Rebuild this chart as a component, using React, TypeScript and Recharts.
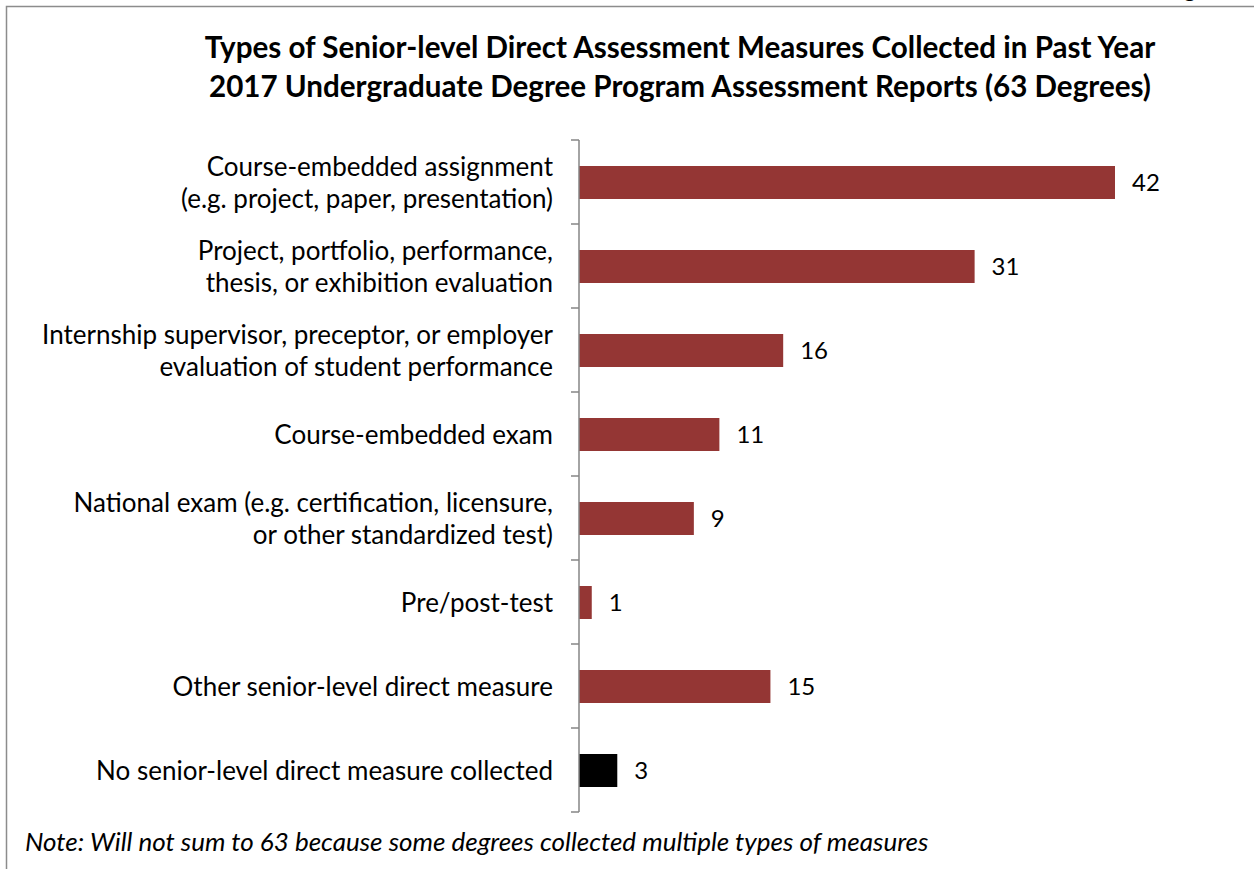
import React from "react";
import { BarChart, Bar, XAxis, YAxis, Cell, LabelList } from "recharts";

const categories = [
  "Course-embedded assignment\n(e.g. project, paper, presentation)",
  "Project, portfolio, performance,\nthesis, or exhibition evaluation",
  "Internship supervisor, preceptor, or employer\nevaluation of student performance",
  "Course-embedded exam",
  "National exam (e.g. certification, licensure,\nor other standardized test)",
  "Pre/post-test",
  "Other senior-level direct measure",
  "No senior-level direct measure collected",
];
const counts = [42, 31, 16, 11, 9, 1, 15, 3];
const barColors = ["#943634", "#943634", "#943634", "#943634", "#943634", "#943634", "#943634", "#000000"];
const titleLines = [
  "Types of Senior-level Direct Assessment Measures Collected in Past Year",
  "2017 Undergraduate Degree Program Assessment Reports (63 Degrees)",
];
const note = "Note: Will not sum to 63 because some degrees collected multiple types of measures";

const data = categories.map((c, i) => ({ name: c, value: counts[i], color: barColors[i] }));

const FONT = "Lato, 'Open Sans', sans-serif";
const TOP = 140;
const BOTTOM = 812;
const BAND = (BOTTOM - TOP) / categories.length;

const CategoryTick = (props: any) => {
  const { x, y, payload, index } = props;
  const lines = String(payload.value).split("\n");
  const lh = 32;
  const startY = y - ((lines.length - 1) * lh) / 2;
  const ax = x + 8;
  return (
    <g>
      <line x1={ax - 8} x2={ax} y1={y - BAND / 2} y2={y - BAND / 2} stroke="#868686" strokeWidth={1.5} />
      {index === categories.length - 1 && (
        <line x1={ax - 8} x2={ax} y1={y + BAND / 2} y2={y + BAND / 2} stroke="#868686" strokeWidth={1.5} />
      )}
      <text x={ax - 26} y={startY} textAnchor="end" dominantBaseline="central" fontFamily={FONT} fontSize={26} fill="#000">
        {lines.map((l, i) => (
          <tspan key={i} x={ax - 26} y={startY + i * lh} dominantBaseline="central">
            {l}
          </tspan>
        ))}
      </text>
    </g>
  );
};

export default function App() {
  return (
    <div style={{ position: "absolute", left: 0, top: 0, width: 1254, height: 869, background: "#fff" }}>
      <svg width={1254} height={869} style={{ position: "absolute", left: 0, top: 0 }}>
        <rect x={6.5} y={6.5} width={1300} height={900} fill="none" stroke="#8c8c8c" strokeWidth={1.5} />
        <text x={1184} y={-3} fontFamily={FONT} fontSize={22} fill="#000">g</text>
        {titleLines.map((t, i) => (
          <text key={i} x={680} y={58 + i * 39} textAnchor="middle" fontFamily={FONT} fontWeight="bold" fontSize={29.6} fill="#000">
            {t}
          </text>
        ))}
        <text x={25} y={851} fontFamily={FONT} fontStyle="italic" fontSize={26} fill="#000">
          {note}
        </text>
      </svg>
      <div style={{ position: "absolute", left: 0, top: 0 }}>
        <BarChart
          width={1254}
          height={869}
          data={data}
          layout="vertical"
          margin={{ top: TOP, bottom: 869 - BOTTOM, left: 19, right: 1254 - 1115 }}
          barSize={33}
        >
          <XAxis type="number" domain={[0, 42]} hide />
          <YAxis
            type="category"
            dataKey="name"
            width={560}
            tickLine={false}
            axisLine={{ stroke: "#868686", strokeWidth: 1.5 }}
            tick={<CategoryTick />}
            interval={0}
          />
          <Bar dataKey="value" isAnimationActive={false}>
            {data.map((d, i) => (
              <Cell key={i} fill={d.color} />
            ))}
            <LabelList dataKey="value" position="right" offset={17} fontFamily={FONT} fontSize={24} fill="#000" />
          </Bar>
        </BarChart>
      </div>
    </div>
  );
}
